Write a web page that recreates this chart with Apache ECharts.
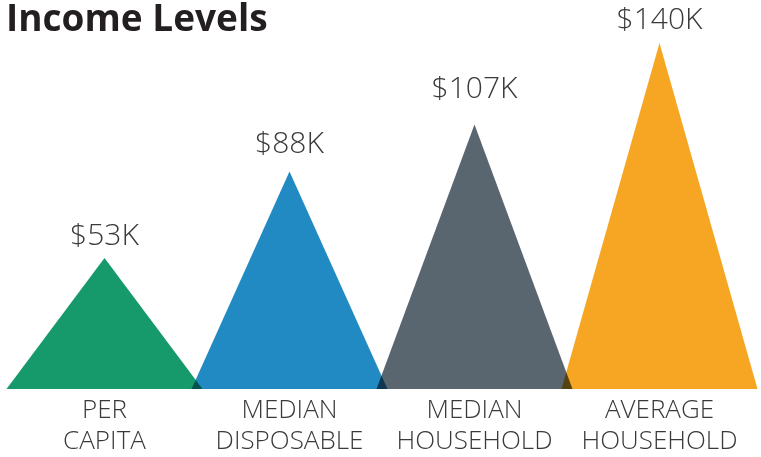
<!DOCTYPE html>
<html>
<head>
<meta charset="utf-8">
<script src="https://cdn.jsdelivr.net/npm/echarts@6/dist/echarts.min.js"></script>
<style>
html,body{margin:0;padding:0;background:#fff;}
#chart{width:761px;height:457px;}
</style>
</head>
<body>
<div id="chart"></div>
<script>
const categories = ['PER\nCAPITA', 'MEDIAN\nDISPOSABLE', 'MEDIAN\nHOUSEHOLD', 'AVERAGE\nHOUSEHOLD'];
const values = [53, 88, 107, 140];
const colors = ['#16996b', '#218ac2', '#59656f', '#f6a623'];
const labelGaps = [7, 12, 20, 8];

const chart = echarts.init(document.getElementById('chart'), null, {renderer: 'canvas'});
chart.setOption({
  animation: false,
  backgroundColor: '#fff',
  title: {
    text: 'Income Levels',
    left: 1,
    top: -3,
    textStyle: {fontFamily: 'Open Sans', fontWeight: 'bold', fontSize: 37, color: '#231f20'}
  },
  grid: {left: 12, right: 9, top: 43, bottom: 67, containLabel: false},
  xAxis: {
    type: 'category',
    data: categories,
    axisLine: {show: false},
    axisTick: {show: false},
    axisLabel: {
      fontFamily: 'Open Sans', fontWeight: 300, fontSize: 26, lineHeight: 31,
      color: '#3a3a3a', margin: 6, interval: 0
    }
  },
  yAxis: {type: 'value', min: 0, max: 140, show: false, splitLine: {show: false}},
  series: [{
    type: 'pictorialBar',
    symbol: 'triangle',
    symbolSize: [196, '100%'],
    blendMode: 'multiply',
    barCategoryGap: '0%',
    label: {
      show: true,
      position: 'top',
      distance: 8,
      fontFamily: 'Open Sans', fontWeight: 300, fontSize: 30,
      color: '#3a3a3a',
      formatter: p => '$' + p.value + 'K'
    },
    data: values.map((v, i) => ({
      value: v,
      itemStyle: {color: colors[i]},
      label: {distance: labelGaps[i]}
    }))
  }]
});
</script>
</body>
</html>
